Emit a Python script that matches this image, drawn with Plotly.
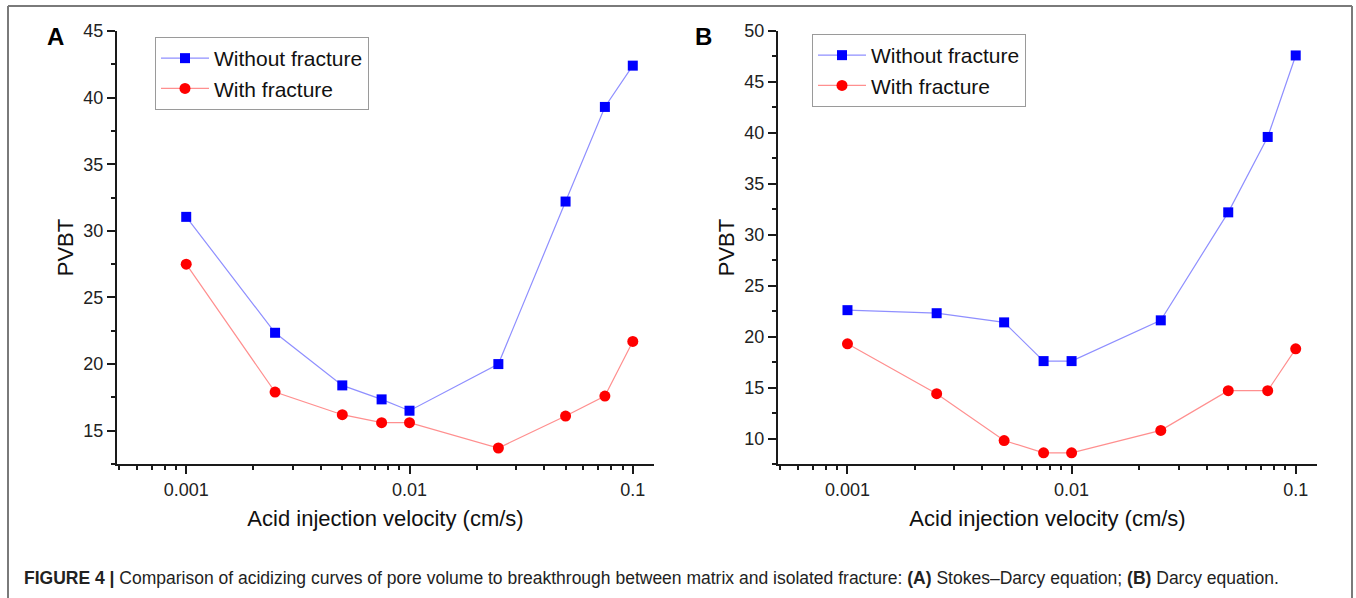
import plotly.graph_objects as go

# ---------------- data ----------------
velocity = [0.001, 0.0025, 0.005, 0.0075, 0.01, 0.025, 0.05, 0.075, 0.1]

a_without = [31.05, 22.35, 18.4, 17.35, 16.5, 20.0, 32.2, 39.3, 42.4]
a_with = [27.5, 17.9, 16.2, 15.6, 15.6, 13.7, 16.1, 17.6, 21.7]

b_without = [22.6, 22.3, 21.4, 17.6, 17.6, 21.6, 32.2, 39.6, 47.6]
b_with = [19.3, 14.4, 9.8, 8.6, 8.6, 10.8, 14.7, 14.7, 18.8]

series_names = ["Without fracture", "With fracture"]
x_tickvals = [0.001, 0.01, 0.1]
x_ticktext = ["0.001", "0.01", "0.1"]
x_title = "Acid injection velocity (cm/s)"
y_title = "PVBT"
panel_labels = ["A", "B"]
caption = ("<b>FIGURE 4 |</b> Comparison of acidizing curves of pore volume to breakthrough "
           "between matrix and isolated fracture: <b>(A)</b> Stokes–Darcy equation; "
           "<b>(B)</b> Darcy equation.")

# ---------------- styling ----------------
W, H = 1356, 598
FONT = "Liberation Sans, Arial, Helvetica, sans-serif"
BLUE, BLUE_LINE = "#0000ff", "#8f8fff"
RED, RED_LINE = "#ff0000", "#ff8f8f"
AXC = "#1a1a1a"

minor_x = [m * 10.0 ** e for e in (-4, -3, -2) for m in range(2, 10)]
minor_x = [v for v in minor_x if 0.00049 <= v <= 0.125]

fig = go.Figure()

def add_panel(idx, without, withf, legend):
    xa = "x" if idx == 1 else "x2"
    ya = "y" if idx == 1 else "y2"
    fig.add_trace(go.Scatter(
        x=velocity, y=without, name=series_names[0], mode="lines+markers",
        line=dict(color=BLUE_LINE, width=1.2),
        marker=dict(symbol="square", size=10, color=BLUE),
        xaxis=xa, yaxis=ya, legend=legend))
    fig.add_trace(go.Scatter(
        x=velocity, y=withf, name=series_names[1], mode="lines+markers",
        line=dict(color=RED_LINE, width=1.2),
        marker=dict(symbol="circle", size=11, color=RED),
        xaxis=xa, yaxis=ya, legend=legend))

add_panel(1, a_without, a_with, "legend")
add_panel(2, b_without, b_with, "legend2")

xaxis_common = dict(
    type="log", range=[-3.31, -0.905], automargin=False,
    tickmode="array", tickvals=x_tickvals, ticktext=x_ticktext,
    ticks="outside", ticklen=8, tickwidth=1.5, tickcolor=AXC,
    showline=True, linecolor=AXC, linewidth=2, mirror=False,
    showgrid=False, zeroline=False,
    tickfont=dict(family=FONT, size=18, color="#222"),
    title=dict(text=x_title, font=dict(family=FONT, size=22, color="#111"), standoff=12),
    minor=dict(tickmode="array", tickvals=minor_x, ticks="outside", ticklen=4,
               tickwidth=1.5, tickcolor=AXC, showgrid=False),
)
yaxis_common = dict(
    automargin=False,
    ticks="outside", ticklen=8, tickwidth=1.5, tickcolor=AXC,
    showline=True, linecolor=AXC, linewidth=2, mirror=False,
    showgrid=False, zeroline=False, dtick=5, tick0=0,
    tickfont=dict(family=FONT, size=18, color="#222"),
    title=dict(text=y_title, font=dict(family=FONT, size=22, color="#111"), standoff=4),
    minor=dict(dtick=2.5, tick0=0, ticks="outside", ticklen=4, tickwidth=1.5,
               tickcolor=AXC, showgrid=False),
)

y0 = 1 - 464 / H
y1 = 1 - 31 / H

legend_style = dict(xanchor="left", yanchor="top",
                    bgcolor="white", bordercolor="#9a9a9a", borderwidth=1,
                    font=dict(family=FONT, size=21, color="#111"), itemwidth=48,
                    tracegroupgap=0)

fig.update_layout(
    width=W, height=H,
    margin=dict(l=0, r=0, t=0, b=0, autoexpand=False),
    paper_bgcolor="white", plot_bgcolor="white",
    font=dict(family=FONT, color="#111"),
    xaxis=dict(domain=[117 / W, 654 / W], anchor="y", **xaxis_common),
    yaxis=dict(domain=[y0, y1], anchor="x", range=[12.5, 45], **yaxis_common),
    xaxis2=dict(domain=[778 / W, 1317 / W], anchor="y2", **xaxis_common),
    yaxis2=dict(domain=[y0, y1], anchor="x2", range=[7.5, 50], **yaxis_common),
    legend=dict(x=155 / W, y=1 - 37 / H, **legend_style),
    legend2=dict(x=812 / W, y=1 - 34 / H, **legend_style),
    showlegend=True,
)

# panel labels
for lab, px in zip(panel_labels, (55, 703)):
    fig.add_annotation(text=f"<b>{lab}</b>", xref="paper", yref="paper",
                       x=px / W, y=1 - 37 / H, xanchor="center", yanchor="middle",
                       showarrow=False, font=dict(family=FONT, size=24, color="#000"))

# caption
fig.add_annotation(text=caption, xref="paper", yref="paper",
                   x=22 / W, y=1 - 578 / H, xanchor="left", yanchor="middle",
                   showarrow=False, font=dict(family=FONT, size=17.5, color="#222"))

# outer frame (left, top, right)
frame = dict(color="#7a7a7a", width=2)
fig.add_shape(type="line", xref="paper", yref="paper", x0=8 / W, x1=8 / W, y0=0, y1=1 - 6 / H, line=frame)
fig.add_shape(type="line", xref="paper", yref="paper", x0=8 / W, x1=1352 / W, y0=1 - 6 / H, y1=1 - 6 / H, line=frame)
fig.add_shape(type="line", xref="paper", yref="paper", x0=1352 / W, x1=1352 / W, y0=0, y1=1 - 6 / H, line=frame)

fig.write_html("out.html",
               config={"displayModeBar": False},
               post_script="document.body.style.margin='0';document.body.style.overflow='hidden';")
